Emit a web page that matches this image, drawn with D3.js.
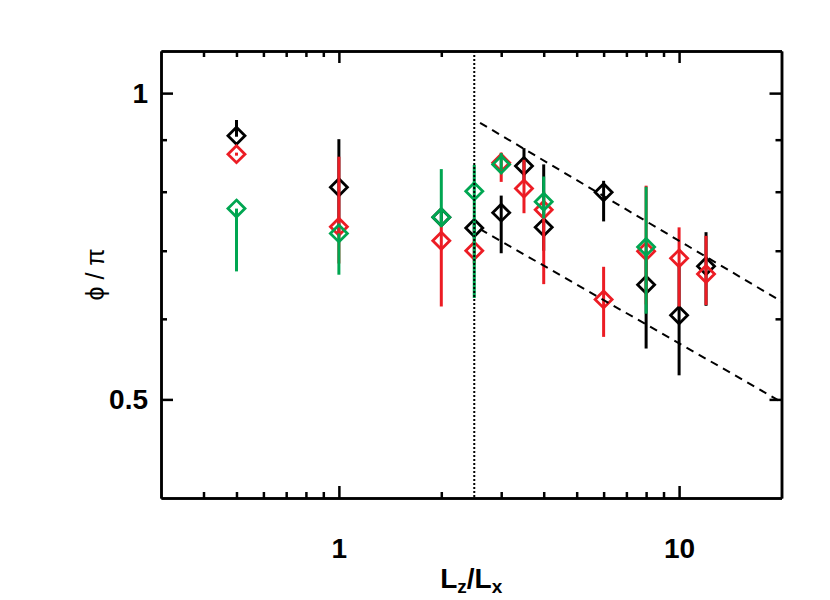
<!DOCTYPE html>
<html>
<head>
<meta charset="utf-8">
<script src="https://cdn.jsdelivr.net/npm/d3@7"></script>
<style>
  html, body { margin: 0; padding: 0; background: #fff; }
  svg { display: block; }
</style>
</head>
<body>
<div id="chart"></div>
<script>
// ---- data ----
const xDomain = [0.3, 20];
const yDomain = [0.4, 1.1];
const xMajorTicks = [1, 10];
const xMinorTicks = [0.4, 0.5, 0.6, 0.7, 0.8, 0.9, 2, 3, 4, 5, 6, 7, 8, 9];
const yMajorTicks = [0.5, 1];
const yMinorTicks = [0.6, 0.7, 0.8, 0.9];
const xTickLabels = ["1", "10"];
const yTickLabels = ["0.5", "1"];

// black series
const blackX  = [0.5,   1,     2,     2.5,   3,     3.5,   4,     6,     8,     10,    12];
const blackY  = [0.908, 0.808, 0.755, 0.737, 0.763, 0.848, 0.738, 0.799, 0.648, 0.605, 0.676];
const blackLo = [0.906, 0.725, 0.748, 0.72,  0.696, 0.82,  0.70,  0.748, 0.561, 0.528, 0.618];
const blackHi = [0.941, 0.901, 0.765, 0.75,  0.793, 0.883, 0.851, 0.820, 0.70,  0.68,  0.73];

// red series
const redX  = [0.5,   1,     2,     2.5,   3,     3.5,   4,     6,     8,     10,    12];
const redY  = [0.871, 0.739, 0.716, 0.700, 0.854, 0.806, 0.768, 0.627, 0.699, 0.688, 0.664];
const redLo = [0.868, 0.68,  0.617, 0.68,  0.818, 0.762, 0.649, 0.576, 0.62,  0.617, 0.619];
const redHi = [0.874, 0.866, 0.74,  0.72,  0.874, 0.860, 0.80,  0.675, 0.811, 0.738, 0.724];

// green series
const greenX  = [0.5,   1,     2,     2.5,   3,     4,     8];
const greenY  = [0.770, 0.728, 0.755, 0.801, 0.851, 0.782, 0.706];
const greenLo = [0.668, 0.663, 0.739, 0.629, 0.840, 0.753, 0.607];
const greenHi = [0.770, 0.728, 0.842, 0.850, 0.873, 0.828, 0.809];

// reference lines
const dottedX = 2.5;
const upperLineX = [2.6, 20];
const upperLineY = [0.935, 0.624];
const lowerLineX = [2.6, 20];
const lowerLineY = [0.735, 0.497];

// ---- layout ----
const W = 830, H = 600;
const L = 161, R = 781.5, T = 51, B = 498;
const colors = { black: "#000000", red: "#ec1c24", green: "#00a651" };

const svg = d3.select("#chart").append("svg").attr("width", W).attr("height", H);

const x = d3.scaleLog().domain(xDomain).range([L, R]);
const y = d3.scaleLog().domain(yDomain).range([B, T]);

const series = [
  { c: colors.black, xs: blackX, ys: blackY, lo: blackLo, hi: blackHi },
  { c: colors.red,   xs: redX,   ys: redY,   lo: redLo,   hi: redHi },
  { c: colors.green, xs: greenX, ys: greenY, lo: greenLo, hi: greenHi }
];

const plot = svg.append("g");
const dsize = 8.5;
series.forEach(s => {
  const g = plot.append("g");
  const idx = d3.range(s.xs.length);
  g.selectAll("line.err").data(idx).join("line")
    .attr("class", "err")
    .attr("x1", i => x(s.xs[i])).attr("x2", i => x(s.xs[i]))
    .attr("y1", i => y(s.lo[i])).attr("y2", i => y(s.hi[i]))
    .attr("stroke", s.c).attr("stroke-width", 3);
  g.selectAll("path.pt").data(idx).join("path")
    .attr("class", "pt")
    .attr("d", i => {
      const cx = x(s.xs[i]), cy = y(s.ys[i]);
      return `M${cx},${cy - dsize}L${cx + dsize},${cy}L${cx},${cy + dsize}L${cx - dsize},${cy}Z`;
    })
    .attr("fill", "none").attr("stroke", s.c).attr("stroke-width", 2.8)
    .attr("stroke-linejoin", "miter");
});

// reference lines
const lineGen = d3.line().x(d => x(d[0])).y(d => y(d[1]));
[[upperLineX, upperLineY], [lowerLineX, lowerLineY]].forEach(([xs, ys]) => {
  plot.append("path")
    .attr("d", lineGen(xs.map((v, i) => [v, ys[i]])))
    .attr("fill", "none").attr("stroke", "#000").attr("stroke-width", 2)
    .attr("stroke-dasharray", "8,6");
});
plot.append("line")
  .attr("x1", x(dottedX)).attr("x2", x(dottedX))
  .attr("y1", y(yDomain[1])).attr("y2", y(yDomain[0]))
  .attr("stroke", "#000").attr("stroke-width", 2).attr("stroke-dasharray", "2,2");

// ---- axes ----
const fontTick = "bold 28px 'Liberation Sans', Arial, sans-serif";
const axes = svg.append("g").attr("stroke-width", 2.5);

function addAxis(axisFn, scale, vals, size, transform, labels) {
  const a = axisFn(scale).tickValues(vals).tickSizeInner(-size).tickSizeOuter(0).tickPadding(12);
  if (labels) a.tickFormat((d, i) => labels[i]); else a.tickFormat("");
  const g = axes.append("g").attr("transform", transform).call(a);
  g.select(".domain").attr("stroke", "#000").attr("stroke-width", 2.5);
  g.selectAll(".tick line").attr("stroke", "#000").attr("stroke-width", 2.5);
  g.selectAll(".tick text").style("font", fontTick).attr("fill", "#000");
  return g;
}
// bottom
addAxis(d3.axisBottom, x, xMajorTicks, 12, `translate(0,${B})`, xTickLabels)
  .selectAll(".tick text").attr("y", 60).attr("dy", 0);
addAxis(d3.axisBottom, x, xMinorTicks, 6, `translate(0,${B})`, null);
// top
addAxis(d3.axisTop, x, xMajorTicks, 12, `translate(0,${T})`, null);
addAxis(d3.axisTop, x, xMinorTicks, 6, `translate(0,${T})`, null);
// left
addAxis(d3.axisLeft, y, yMajorTicks, 12, `translate(${L},0)`, yTickLabels)
  .selectAll(".tick text").attr("dx", "-1px");
addAxis(d3.axisLeft, y, yMinorTicks, 6, `translate(${L},0)`, null);
// right
addAxis(d3.axisRight, y, yMajorTicks, 12, `translate(${R},0)`, null);
addAxis(d3.axisRight, y, yMinorTicks, 6, `translate(${R},0)`, null);

// ---- titles ----
const xt = svg.append("text")
  .attr("x", (L + R) / 2).attr("y", 588)
  .attr("text-anchor", "middle")
  .style("font", "bold 28px 'Liberation Sans', Arial, sans-serif");
xt.append("tspan").text("L");
xt.append("tspan").attr("dy", 5).style("font-size", "19px").text("z");
xt.append("tspan").attr("dy", -5).text("/L");
xt.append("tspan").attr("dy", 5).style("font-size", "19px").text("x");

svg.append("text")
  .attr("transform", `translate(104,${(T + B) / 2}) rotate(-90)`)
  .attr("text-anchor", "middle")
  .style("font", "25px 'Liberation Sans', Arial, sans-serif")
  .text("ϕ / π");
</script>
</body>
</html>
